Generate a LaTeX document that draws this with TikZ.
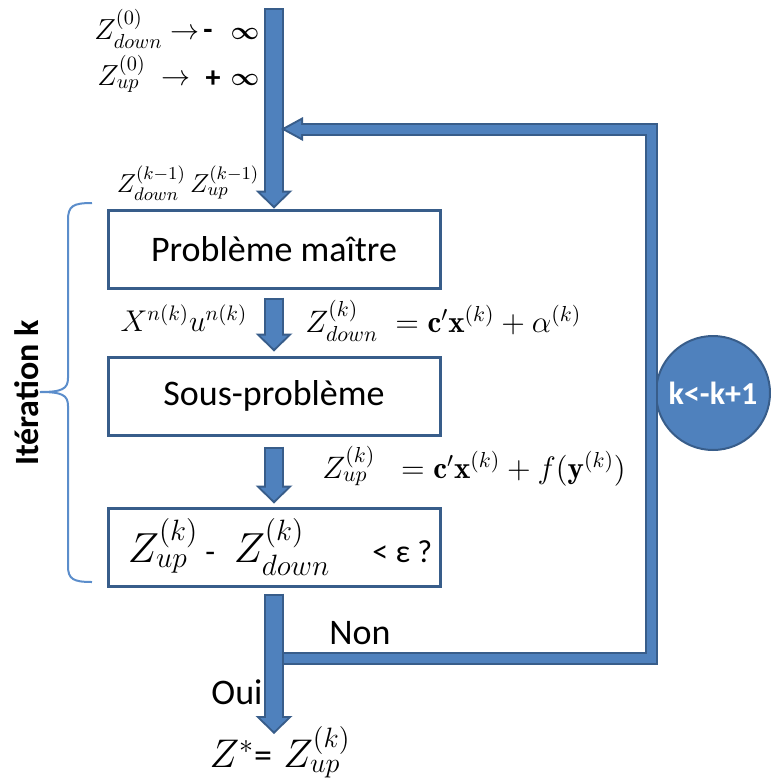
\RequirePackage{fix-cm}
\documentclass[tikz,border=0pt]{standalone}
\usepackage{amsmath,amssymb}
\usepackage{fontspec}
\newfontfamily\calib{Carlito}
\usetikzlibrary{arrows.meta}
\definecolor{fondbleu}{RGB}{79,129,189}
\definecolor{bordbleu}{RGB}{56,93,138}
\definecolor{accbleu}{RGB}{91,141,203}
\newcommand{\sanspetit}{\calib\fontsize{16}{19}\selectfont}
\tikzset{
  boite/.style={
    draw=bordbleu,
    line width=1.5pt,
    minimum width=166pt,
    minimum height=39pt,
    font=\calib\fontsize{18}{22}\selectfont
  },
  flux/.style={
    draw=fondbleu,
    line width=8pt,
    shorten <=1pt,
    shorten >=1.4pt,
    -{Triangle[width=13.6pt,length=6.6pt,line width=0pt]},
    preaction={draw=bordbleu, line width=10pt, shorten <=0pt, shorten >=0pt,
      -{Triangle[width=18.5pt,length=9pt,line width=0pt]}}
  },
  boucle/.style={
    draw=fondbleu,
    line width=4.5pt,
    shorten >=2.1pt,
    -{Triangle[width=8.6pt,length=7.9pt,line width=0pt]},
    preaction={draw=bordbleu, line width=6.5pt, shorten >=0pt,
      -{Triangle[width=12pt,length=11pt,line width=0pt]}}
  },
  cercle/.style={
    circle,
    fill=fondbleu,
    draw=bordbleu,
    line width=1pt,
    minimum size=57pt,
    inner sep=0pt,
    text=white,
    font=\calib\bfseries\fontsize{16}{19}\selectfont
  },
  accolade/.style={
    draw=accbleu,
    line width=1pt
  },
  lbl/.style={
    inner sep=0pt,
    font=\fontsize{15}{18}\selectfont
  },
  mot/.style={
    inner sep=0pt,
    font=\calib\fontsize{18}{22}\selectfont
  },
  signe/.style={
    inner sep=0pt,
    font=\calib\bfseries\fontsize{15}{18}\selectfont
  },
  infini/.style={
    inner sep=0pt,
    font=\fontsize{12.5}{15}\selectfont
  }
}
\begin{document}
\begin{tikzpicture}[x=0.5pt,y=-0.5pt]
  \useasboundingbox (0,0) rectangle (771,782);
  % the three steps
  \node[boite] (pm) at (274,249) {Problème maître};
  \node[boite] (sp) at (274,396) {Sous-problème};
  \node[boite,font=\fontsize{21}{25}\selectfont] (test) at (274,547)
    {\hspace{6pt}$Z^{(k)}_{up}$\,{\sanspetit -}\;\,$Z^{(k)}_{down}$\quad{\sanspetit < ε ?}};
  \node[cercle] (incr) at (713,393) {k<-k+1};
  \coordinate (debut) at (274,8);
  \coordinate (fin) at (274,734);
  \coordinate (branche) at (274,658);
  \coordinate (coinbas) at (651,658);
  \coordinate (coinhaut) at (651,129);
  \coordinate (retour) at (281,129);
  % arrows
  \draw[flux] (debut) -- (pm.north);
  \draw[flux] ([yshift=-4pt]pm.south) -- ([yshift=2pt]sp.north);
  \draw[flux] ([yshift=-5pt]sp.south) -- ([yshift=1.5pt]test.north);
  \draw[boucle] (branche) -- (coinbas) -- (coinhaut) -- (retour);
  \draw[flux] ([yshift=-3pt]test.south) -- (fin);
  % brace
  \draw[accolade] (92,203) .. controls (73,203) and (68,206) .. (68,220)
    -- (68,378) .. controls (68,389) and (62,392) .. (40,392)
    .. controls (62,392) and (68,395) .. (68,406)
    -- (68,566) .. controls (68,579) and (73,582) .. (92,582);
  \node[rotate=90,inner sep=0pt,font=\calib\bfseries\fontsize{17}{20}\selectfont]
    (iter) at (27,393) {Itération k};
  % labels
  \node[lbl,anchor=west,font=\fontsize{14.5}{17}\selectfont] (init1) at (94,29)
    {$Z^{(0)}_{down}\rightarrow$};
  \node[signe] (moins) at (208,34) {-};
  \node[infini] (inf1) at (245,34) {$\boldsymbol{\infty}$};
  \node[lbl,anchor=west,font=\fontsize{14.5}{17}\selectfont] (init2) at (97,74)
    {$Z^{(0)}_{up}\;\rightarrow$};
  \node[signe] (plus) at (213,79) {+};
  \node[infini] (inf2) at (245,80) {$\boldsymbol{\infty}$};
  \node[lbl,font=\fontsize{13}{16}\selectfont] (prec) at (188,183) {$Z^{(k-1)}_{down}\,Z^{(k-1)}_{up}$};
  \node[lbl] (coupes) at (184,318) {$X^{n(k)}u^{n(k)}$};
  \node[lbl,anchor=west,font=\fontsize{15.5}{18}\selectfont] (zdown) at (305,321)
    {$Z^{(k)}_{down}\;=\mathbf{c}'\mathbf{x}^{(k)}+\alpha^{(k)}$};
  \node[lbl,anchor=west,font=\fontsize{15.5}{18}\selectfont] (zup) at (322,466)
    {$Z^{(k)}_{up}\;\;=\mathbf{c}'\mathbf{x}^{(k)}+f(\mathbf{y}^{(k)})$};
  \node[mot] (non) at (360,633) {Non};
  \node[mot] (oui) at (237,692) {Oui};
  \node[lbl,font=\fontsize{20}{24}\selectfont] (zstar) at (280,752)
    {$Z^*${\calib\fontsize{18}{22}\selectfont =}\;$Z^{(k)}_{up}$};
\end{tikzpicture}
\end{document}
